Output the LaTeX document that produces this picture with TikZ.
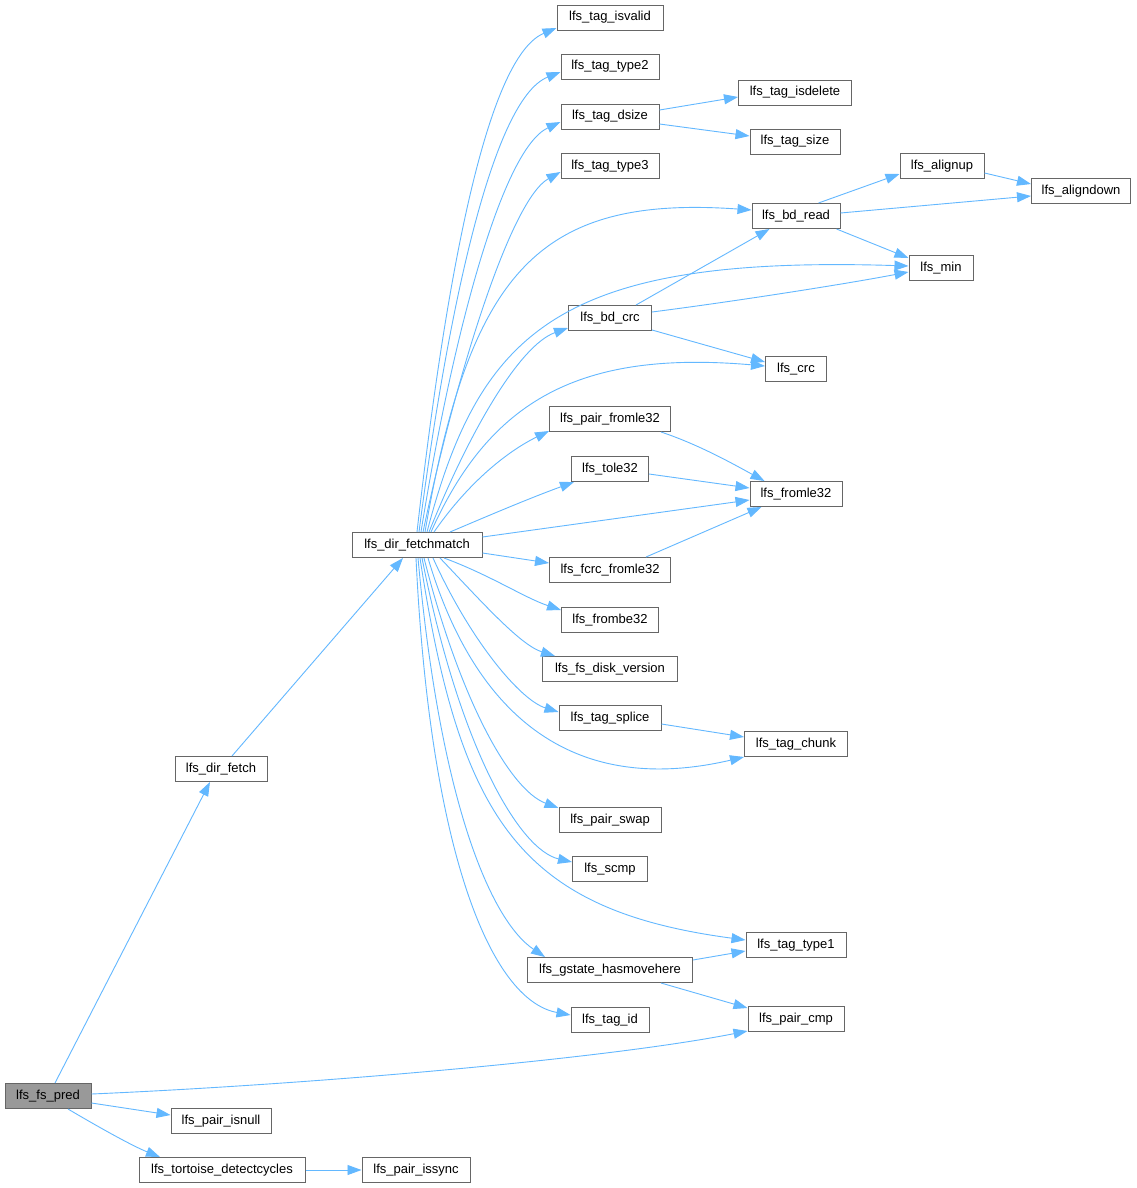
\documentclass[tikz,border=0pt]{standalone}
\usepackage{fontspec}
\setmainfont{Liberation Sans}
\usetikzlibrary{arrows.meta,calc}
\definecolor{edgec}{HTML}{63B8FF}
\definecolor{bord}{HTML}{666666}
\definecolor{hl}{HTML}{999999}
\tikzset{
 fn/.style={draw=bord,line width=1pt,fill=white,minimum height=25pt,inner sep=0pt,font=\fontsize{13}{15}\selectfont,anchor=center,text height=9.3pt,text depth=3.3pt},
 e/.style={draw=edgec,line width=0.9pt,-{Triangle[length=14pt,width=10pt]}},
}
\begin{document}
\begin{tikzpicture}[x=1pt,y=-1pt]
\useasboundingbox[fill=white] (0,0) rectangle (1137,1188);
\node[fn,minimum width=86pt,fill=hl] (pred) at (48,1096) {lfs\_fs\_pred};
\node[fn,minimum width=92pt] (df) at (221,769) {lfs\_dir\_fetch};
\node[fn,minimum width=130pt] (fm) at (417,545) {lfs\_dir\_fetchmatch};
\node[fn,minimum width=100pt] (isnull) at (221,1121) {lfs\_pair\_isnull};
\node[fn,minimum width=166pt] (tort) at (222,1170) {lfs\_tortoise\_detectcycles};
\node[fn,minimum width=108pt] (issync) at (416,1170) {lfs\_pair\_issync};
\node[fn,minimum width=96pt] (paircmp) at (796,1019) {lfs\_pair\_cmp};
\node[fn,minimum width=106pt] (isvalid) at (610,18) {lfs\_tag\_isvalid};
\node[fn,minimum width=98pt] (type2) at (610,67) {lfs\_tag\_type2};
\node[fn,minimum width=98pt] (dsize) at (610,117) {lfs\_tag\_dsize};
\node[fn,minimum width=113pt] (isdelete) at (795,93) {lfs\_tag\_isdelete};
\node[fn,minimum width=90pt] (tsize) at (795,142) {lfs\_tag\_size};
\node[fn,minimum width=98pt] (type3) at (610,166) {lfs\_tag\_type3};
\node[fn,minimum width=88pt] (bdread) at (796,216) {lfs\_bd\_read};
\node[fn,minimum width=84pt] (alignup) at (942,166) {lfs\_alignup};
\node[fn,minimum width=99pt] (aligndown) at (1081,191) {lfs\_aligndown};
\node[fn,minimum width=64pt] (min) at (941,268) {lfs\_min};
\node[fn,minimum width=83pt] (bdcrc) at (610,318) {lfs\_bd\_crc};
\node[fn,minimum width=61pt] (crc) at (796,369) {lfs\_crc};
\node[fn,minimum width=121pt] (pairfromle) at (610,419) {lfs\_pair\_fromle32};
\node[fn,minimum width=77pt] (tole) at (610,469) {lfs\_tole32};
\node[fn,minimum width=92pt] (fromle) at (796,494) {lfs\_fromle32};
\node[fn,minimum width=121pt] (fcrc) at (610,570) {lfs\_fcrc\_fromle32};
\node[fn,minimum width=97pt] (frombe) at (610,620) {lfs\_frombe32};
\node[fn,minimum width=135pt] (diskver) at (610,669) {lfs\_fs\_disk\_version};
\node[fn,minimum width=102pt] (splice) at (610,718) {lfs\_tag\_splice};
\node[fn,minimum width=103pt] (chunk) at (796,744) {lfs\_tag\_chunk};
\node[fn,minimum width=102pt] (swap) at (610,820) {lfs\_pair\_swap};
\node[fn,minimum width=75pt] (scmp) at (610,869) {lfs\_scmp};
\node[fn,minimum width=100pt] (type1) at (796,945) {lfs\_tag\_type1};
\node[fn,minimum width=165pt] (gstate) at (610,970) {lfs\_gstate\_hasmovehere};
\node[fn,minimum width=78pt] (tagid) at (610,1020) {lfs\_tag\_id};

% from lfs_fs_pred
\draw[e] ($(pred.north)+(7,0)$) -- ($(df.south)+(-11,0)$);
\draw[e] ($(pred.east)+(0,-2)$) .. controls (300,1085) and (600,1060) .. ($(paircmp.west)+(0,12)$);
\draw[e] ($(pred.east)+(0,7)$) -- ($(isnull.west)+(0,-6)$);
\draw[e] ($(pred.south)+(20,0)$) .. controls (90,1122) and (130,1145) .. ($(tort.north)+(-62,0)$);
\draw[e] (tort.east) -- (issync.west);
% lfs_dir_fetch
\draw[e] ($(df.north)+(11,0)$) -- ($(fm.south)+(-14,0)$);
% fan from lfs_dir_fetchmatch (top)
\draw[e] ($(fm.north)+(0,0)$) .. controls (440,330) and (480,60) .. ($(isvalid.west)+(0,10)$);
\draw[e] ($(fm.north)+(2,0)$) .. controls (445,330) and (490,100) .. ($(type2.west)+(0,5)$);
\draw[e] ($(fm.north)+(4,0)$) .. controls (450,350) and (500,150) .. ($(dsize.west)+(0,5)$);
\draw[e] ($(fm.north)+(6,0)$) .. controls (455,380) and (510,200) .. ($(type3.west)+(0,6)$);
\draw[e] ($(fm.north)+(8,0)$) .. controls (470,270) and (540,195) .. ($(bdread.west)+(0,-6)$);
\draw[e] ($(fm.north)+(10,0)$) .. controls (480,330) and (560,255) .. ($(min.west)+(0,-2)$);
\draw[e] ($(fm.north)+(12,0)$) .. controls (470,430) and (520,345) .. ($(bdcrc.west)+(0,10)$);
\draw[e] ($(fm.north)+(14,0)$) .. controls (490,400) and (580,350) .. ($(crc.west)+(0,-3)$);
\draw[e] ($(fm.north)+(17,0)$) .. controls (470,480) and (510,450) .. ($(pairfromle.west)+(0,12)$);
\draw[e] ($(fm.north)+(33,0)$) .. controls (490,515) and (530,498) .. ($(tole.south west)+(3,0)$);
\draw[e] ($(fm.east)+(0,-8)$) -- ($(fromle.west)+(0,6)$);
\draw[e] ($(fm.east)+(0,8)$) -- ($(fcrc.west)+(0,-7)$);
% fan from lfs_dir_fetchmatch (bottom)
\draw[e] ($(fm.south)+(27,0)$) .. controls (490,575) and (525,598) .. ($(frombe.west)+(0,-10)$);
\draw[e] ($(fm.south)+(23,0)$) .. controls (480,600) and (520,645) .. ($(diskver.north west)+(13,0)$);
\draw[e] ($(fm.south)+(16,0)$) .. controls (470,640) and (520,700) .. ($(splice.west)+(0,-6)$);
\draw[e] ($(fm.south)+(11,0)$) .. controls (470,700) and (560,800) .. ($(chunk.west)+(0,13)$);
\draw[e] ($(fm.south)+(7,0)$) .. controls (460,700) and (510,790) .. ($(swap.west)+(0,-12)$);
\draw[e] ($(fm.south)+(5,0)$) .. controls (460,750) and (520,850) .. ($(scmp.west)+(0,-7)$);
\draw[e] ($(fm.south)+(3,0)$) .. controls (460,820) and (520,910) .. ($(type1.west)+(0,-5)$);
\draw[e] ($(fm.south)+(1,0)$) .. controls (440,800) and (490,920) .. ($(gstate.north west)+(18,0)$);
\draw[e] ($(fm.south)+(-1,0)$) .. controls (430,850) and (490,1000) .. ($(tagid.west)+(0,-5)$);
% second level
\draw[e] ($(dsize.east)+(0,-7)$) -- ($(isdelete.west)+(0,4)$);
\draw[e] ($(dsize.east)+(0,7)$) -- ($(tsize.west)+(0,-6)$);
\draw[e] ($(bdread.north east)+(-22,0)$) -- ($(alignup.south west)+(0,-5)$);
\draw[e] ($(bdread.east)+(0,-3)$) -- ($(aligndown.west)+(0,5)$);
\draw[e] ($(bdread.south east)+(-4,0)$) -- ($(min.west)+(0,-10)$);
\draw[e] ($(alignup.east)+(0,7)$) -- ($(aligndown.west)+(0,-7)$);
\draw[e] ($(bdcrc.north east)+(-16,0)$) -- ($(bdread.south west)+(18,0)$);
\draw[e] ($(bdcrc.east)+(0,-6)$) .. controls (730,302) and (840,285) .. ($(min.west)+(0,4)$);
\draw[e] ($(bdcrc.east)+(0,12)$) -- ($(crc.west)+(0,-7)$);
\draw[e] ($(pairfromle.south east)+(-10,0)$) .. controls (700,445) and (735,465) .. ($(fromle.north west)+(15,0)$);
\draw[e] ($(tole.east)+(0,5)$) -- ($(fromle.west)+(0,-6)$);
\draw[e] ($(fcrc.north east)+(-25,0)$) -- ($(fromle.south west)+(12,0)$);
\draw[e] ($(splice.east)+(0,6)$) -- ($(chunk.west)+(0,-7)$);
\draw[e] ($(gstate.east)+(0,-10)$) -- ($(type1.west)+(0,6)$);
\draw[e] ($(gstate.south east)+(-32,0)$) -- ($(paircmp.west)+(0,-11)$);
\end{tikzpicture}
\end{document}
